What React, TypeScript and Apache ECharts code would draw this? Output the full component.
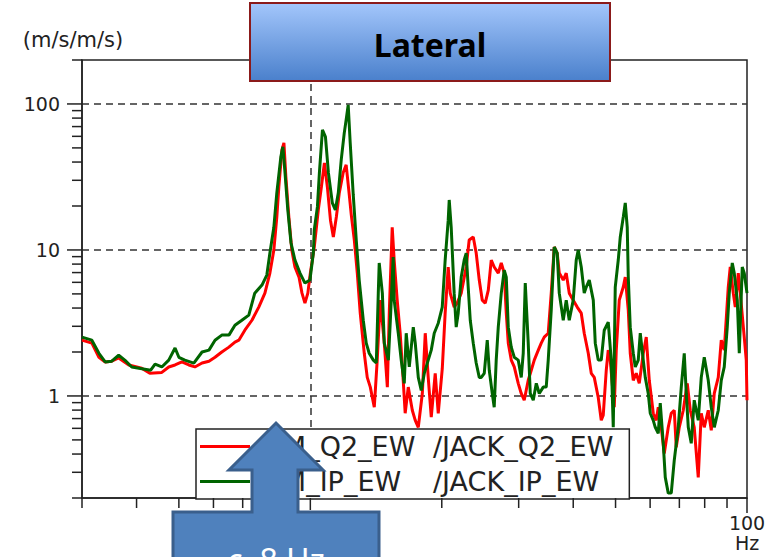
import React, { useEffect, useRef } from 'react';
import * as echarts from 'echarts';

// Transfer function amplitude, Q2 sensor ratio (red)
const FREQ_Q2 = [
  3.0, 3.16, 3.28, 3.39, 3.51, 3.64, 3.84, 4.11, 4.29, 4.57, 4.74, 4.9, 5.08, 5.27, 5.44, 5.65, 5.86, 6.05, 6.27, 6.51,
  6.72, 6.86, 7.08, 7.35, 7.62, 7.87, 8.08, 8.25, 8.38, 8.47, 8.61, 8.7, 8.79, 8.93, 9.07, 9.22, 9.42, 9.57, 9.72, 9.87,
  10.0, 10.21, 10.43, 10.6, 10.77, 10.94, 11.12, 11.29, 11.47, 11.65, 11.89, 12.08, 12.28, 12.41, 12.61, 12.81, 13.01,
  13.29, 13.5, 13.72, 14.01, 14.23, 14.46, 14.77, 15.01, 15.17, 15.4, 15.56, 15.81, 16.06, 16.32, 16.49, 16.76, 17.12,
  17.39, 17.67, 18.05, 18.33, 18.62, 18.92, 19.32, 19.63, 20.05, 20.36, 20.69, 20.91, 21.35, 21.69, 22.16, 22.75, 23.11,
  23.61, 23.98, 24.37, 24.76, 25.15, 25.56, 25.96, 26.37, 26.94, 27.37, 27.8, 28.1, 28.4, 28.85, 29.31, 29.93, 30.41,
  30.89, 31.55, 32.06, 32.57, 33.27, 33.79, 34.33, 35.06, 35.62, 36.19, 36.76, 37.16, 37.95, 38.55, 39.17, 40.0, 40.85,
  41.73, 42.39, 43.3, 43.99, 44.69, 45.64, 46.37, 46.86, 47.61, 48.11, 48.62, 49.66, 50.19, 50.99, 52.08, 52.63, 53.47,
  54.03, 54.9, 55.77, 56.66, 57.87, 58.79, 59.73, 61.0, 61.97, 62.63, 63.63, 64.64, 66.02, 67.07, 68.14, 68.86, 69.96,
  71.46, 72.98, 74.15, 75.71, 77.33, 78.57, 79.82, 81.52, 82.83, 84.15, 85.94, 87.31, 88.7, 90.59, 91.55, 93.02, 94.0,
  95.5, 96.51, 98.56, 99.61, 100,
];
const AMP_Q2 = [
  2.41, 2.3, 1.84, 1.71, 1.73, 1.82, 1.63, 1.55, 1.43, 1.45, 1.58, 1.63, 1.71, 1.63, 1.58, 1.68, 1.73, 1.84, 2.0, 2.16,
  2.34, 2.41, 2.82, 3.3, 4.06, 5.06, 6.94, 9.98, 16.8, 27.0, 48.5, 54.2, 31.7, 16.8, 9.98, 7.64, 6.52, 5.06, 4.32, 5.06,
  6.94, 10.48, 18.8, 27.0, 39.5, 27.0, 16.0, 12.27, 16.8, 24.6, 33.8, 38.3, 23.8, 17.4, 11.7, 6.94, 3.69,
  1.96, 1.34, 1.15, 0.837, 1.76, 4.53, 2.3, 1.15, 3.87, 14.3, 8.53, 4.53, 2.69, 1.28, 0.761, 1.15, 0.798,
  0.681, 0.61, 1.04, 2.69, 1.34, 0.715, 1.43, 0.761, 1.53, 3.69, 7.64, 5.06, 4.06, 4.32, 5.06, 7.64, 11.7,
  12.27, 9.52, 6.22, 4.53, 4.32, 5.31, 8.53, 7.64, 6.94, 8.14, 6.94, 3.69, 2.3, 1.76, 1.58, 1.22, 1.04,
  0.935, 1.28, 1.5, 1.76, 2.06, 2.3, 2.53, 2.69, 5.06, 10.48, 9.52, 6.94, 6.22, 6.94, 5.06, 4.53, 4.06,
  3.69, 2.69, 1.96, 1.43, 1.34, 0.976, 0.681, 0.738, 1.5, 2.06, 1.76, 0.837, 2.06, 4.53, 5.57, 6.52, 3.87,
  1.96, 1.28, 1.43, 1.22, 1.96, 2.53, 1.28, 0.761, 0.681, 0.837, 0.61, 0.404, 0.61, 0.761, 0.798, 0.445, 0.61,
  0.798, 1.22, 0.798, 0.61, 0.277, 0.761, 0.61, 0.798, 0.582, 1.04, 1.34, 2.41, 2.06, 5.57, 7.64, 5.06, 4.06,
  6.94, 5.06, 2.53, 1.76, 0.935,
];

// Transfer function amplitude, IP sensor ratio (green)
const FREQ_IP = [
  3.0, 3.16, 3.28, 3.39, 3.51, 3.64, 3.76, 3.9, 4.05, 4.31, 4.41, 4.57, 4.74, 4.9, 5.0, 5.16, 5.41, 5.65, 5.86, 6.05,
  6.27, 6.51, 6.72, 6.97, 7.23, 7.46, 7.75, 7.95, 8.08, 8.25, 8.38, 8.56, 8.65, 8.74, 8.88, 9.03, 9.22, 9.47, 9.72, 9.98,
  10.16, 10.21, 10.38, 10.49, 10.66, 10.83, 11.0, 11.23, 11.41, 11.59, 11.77, 11.96, 12.08, 12.21, 12.34, 12.54, 12.74,
  12.94, 13.22, 13.43, 13.64, 13.94, 14.16, 14.31, 14.38, 14.62, 14.77, 15.09, 15.25, 15.48, 15.56, 15.9, 16.15, 16.41,
  16.58, 16.85, 17.21, 17.39, 17.67, 17.95, 18.24, 18.62, 18.92, 19.22, 19.63, 20.05, 20.36, 20.69, 20.8, 21.02, 21.35,
  21.58, 21.81, 22.16, 22.51, 22.75, 22.99, 23.24, 23.61, 23.98, 24.37, 24.63, 25.02, 25.42, 25.69, 26.1, 26.37, 26.65,
  26.94, 27.37, 27.8, 28.1, 28.4, 28.85, 29.31, 29.93, 30.41, 30.73, 31.06, 31.55, 31.89, 32.4, 32.92, 33.44, 34.15,
  34.69, 35.06, 35.62, 36.19, 36.76, 37.16, 37.95, 38.55, 39.17, 40.0, 40.64, 41.07, 41.73, 42.39, 42.84, 43.53, 44.46,
  44.93, 45.64, 46.37, 47.11, 48.11, 48.88, 49.4, 49.92, 50.72, 51.26, 52.08, 52.63, 53.18, 53.47, 54.03, 54.9, 55.48,
  56.36, 56.96, 57.87, 58.48, 59.41, 60.04, 61.0, 61.65, 62.63, 63.29, 64.3, 64.99, 66.02, 67.07, 68.14, 69.59, 70.71,
  71.83, 72.6, 73.37, 74.53, 75.71, 77.33, 78.57, 79.82, 81.52, 82.83, 84.15, 85.94, 87.31, 88.7, 90.11, 91.07, 92.53,
  93.5, 95.0, 96.01, 97.53, 98.56, 100,
];
const AMP_IP = [
  2.53, 2.41, 1.96, 1.71, 1.73, 1.9, 1.76, 1.58, 1.55, 1.5, 1.65, 1.58, 1.76, 2.13, 1.84, 1.76, 1.68, 2.0, 2.06, 2.41,
  2.61, 2.61, 3.05, 3.3, 3.58, 5.06, 5.75, 6.73, 9.52, 14.3, 24.6, 43.4, 50.9, 35.4, 18.8, 11.2, 8.53, 6.94, 5.93, 6.22,
  9.52, 13.7, 19.7, 33.8, 66.5, 59.6, 33.8, 21.0, 18.8, 24.6, 41.4, 63.4, 77.9, 98.6, 54.2, 23.8, 11.7,
  6.22, 3.3, 2.3, 1.96, 1.76, 1.68, 5.06, 8.14, 5.06, 2.3, 1.76, 3.3, 8.94, 4.53, 2.69, 1.76, 1.22,
  2.69, 1.58, 2.96, 2.3, 1.34, 1.09, 1.43, 1.76, 2.06, 2.69, 3.15, 4.06, 8.53, 16.0, 22.0, 14.3, 5.06,
  2.96, 3.69, 6.52, 8.53, 9.52, 5.57, 3.3, 2.3, 1.68, 1.34, 1.34, 1.43, 2.41, 1.5, 1.04, 0.837, 1.76,
  2.96, 5.06, 7.28, 6.52, 2.96, 2.16, 1.84, 1.76, 1.34, 1.96, 5.93, 2.3, 1.04, 0.935, 1.22, 1.04, 1.15,
  1.15, 1.76, 3.87, 10.48, 9.52, 5.06, 3.3, 4.53, 3.3, 4.53, 8.53, 9.98, 7.64, 5.06, 5.57, 6.22, 4.53,
  2.3, 1.76, 1.76, 2.82, 3.2, 1.76, 0.61, 5.57, 8.53, 12.27, 16.8, 21.0, 14.3, 6.52, 2.96, 1.96, 1.58,
  1.76, 2.69, 1.76, 1.34, 1.04, 0.761, 0.681, 0.61, 0.555, 0.892, 0.474, 0.277, 0.216, 0.216, 0.362, 0.61, 1.15,
  1.96, 1.04, 0.61, 0.474, 0.935, 0.681, 1.34, 1.84, 1.28, 0.837, 0.61, 0.798, 1.28, 1.58, 2.96, 5.06, 8.14,
  6.94, 4.53, 1.96, 7.64, 6.94, 5.06,
];

const LEGEND_LEFT = ['/RM_Q2_EW', '/RM_IP_EW'];
const LEGEND_RIGHT = ['/JACK_Q2_EW', '/JACK_IP_EW'];
const SERIES_COLORS = ['#ff0000', '#006400'];

const X_MIN = 3;
const X_MAX = 100;
const Y_MIN = 0.2;
const Y_MAX = 200;

// tick positions and their lengths in px
const X_TICKS = [3, 4, 5, 6, 7, 8, 9, 10, 20, 30, 40, 50, 60, 70, 80, 90, 100];
const X_TICK_LEN = [10, 10, 10, 10, 10, 10, 10, 12, 10, 10, 10, 10, 10, 10, 10, 10, 15];
const Y_TICKS = [
  0.2, 0.3, 0.4, 0.5, 0.6, 0.7, 0.8, 0.9, 1, 2, 3, 4, 5, 6, 7, 8, 9, 10, 20, 30, 40, 50, 60, 70, 80, 90, 100, 200,
];
const Y_MAJOR = [1, 10, 100];

const Y_LABELS = ['1', '10', '100'];
const X_LABEL = '100\nHz';
const Y_NAME = '(m/s/m/s)';
const TITLE = 'Lateral';
const CALLOUT = 'c. 8 Hz';

const INK = '#222';
const LABEL_FONT = 'DejaVu Sans';

export default function App() {
  const ref = useRef<HTMLDivElement>(null);

  useEffect(() => {
    if (!ref.current) return;
    const chart = echarts.init(ref.current, null, { renderer: 'svg' });

    const names = LEGEND_LEFT.map((a, i) => `${a} ${LEGEND_RIGHT[i]}`);
    const seriesData = [
      FREQ_Q2.map((f, i) => [f, AMP_Q2[i]]),
      FREQ_IP.map((f, i) => [f, AMP_IP[i]]),
    ];

    const near = (a: number, b: number) => Math.abs(a - b) < 1e-6 * Math.max(1, b);

    const option: any = {
      animation: false,
      backgroundColor: '#fff',
      grid: {
        left: 82,
        right: 20,
        top: 60,
        bottom: 59,
        show: true,
        borderColor: INK,
        borderWidth: 1.5,
        containLabel: false,
        outerBoundsMode: 'none',
      },
      xAxis: {
        type: 'log',
        logBase: 10,
        min: X_MIN,
        max: X_MAX,
        axisLine: { show: true, lineStyle: { color: INK, width: 1.5 } },
        axisTick: { show: false },
        axisLabel: {
          color: INK,
          fontFamily: LABEL_FONT,
          fontSize: 19,
          lineHeight: 20,
          margin: 15,
          formatter: (v: number) => (near(v, X_MAX) ? X_LABEL : ''),
        },
        splitLine: {
          show: true,
          showMinLine: false,
          showMaxLine: false,
          lineStyle: { color: '#333', width: 1.5, type: [7, 5] },
        },
      },
      yAxis: {
        type: 'log',
        logBase: 10,
        min: Y_MIN,
        max: Y_MAX,
        name: Y_NAME,
        nameLocation: 'end',
        nameGap: 10,
        nameTextStyle: {
          color: INK,
          fontFamily: LABEL_FONT,
          fontSize: 21,
          align: 'center',
          padding: [0, 18, 0, 0],
        },
        axisLine: { show: true, lineStyle: { color: INK, width: 1.5 } },
        axisTick: { show: false },
        axisLabel: {
          color: INK,
          fontFamily: LABEL_FONT,
          fontSize: 19,
          margin: 22,
          formatter: (v: number) => {
            const i = Y_MAJOR.findIndex((m) => near(v, m));
            return i >= 0 ? Y_LABELS[i] : '';
          },
        },
        splitLine: {
          show: true,
          showMinLine: false,
          showMaxLine: false,
          lineStyle: { color: '#333', width: 1.5, type: [7, 5] },
        },
      },
      legend: {
        data: names,
        orient: 'vertical',
        left: 196,
        top: 429,
        icon: 'rect',
        itemWidth: 50,
        itemHeight: 3,
        itemGap: 0,
        padding: [0, 16, 0, 4],
        backgroundColor: '#fff',
        borderColor: INK,
        borderWidth: 1.5,
        selectedMode: false,
        formatter: (name: string) => {
          const [a, b] = name.split(' ');
          return `{a|${a}}{b|${b}}`;
        },
        textStyle: {
          color: INK,
          fontFamily: LABEL_FONT,
          fontSize: 27,
          lineHeight: 35,
          rich: {
            a: { width: 178, color: INK, fontFamily: LABEL_FONT, fontSize: 27, lineHeight: 35 },
            b: { color: INK, fontFamily: LABEL_FONT, fontSize: 27, lineHeight: 35 },
          },
        },
      },
      series: [
        ...names.map((name, i) => ({
          name,
          type: 'line',
          data: seriesData[i],
          symbol: 'none',
          showSymbol: false,
          z: 2 + i,
          lineStyle: { color: SERIES_COLORS[i], width: 3 },
          itemStyle: { color: SERIES_COLORS[i] },
        })),
        {
          // minor and major ticks along the frequency axis
          type: 'custom',
          silent: true,
          clip: false,
          z: 5,
          data: X_TICKS.map((t, i) => [t, Y_MIN, X_TICK_LEN[i]]),
          renderItem: (_p: any, api: any) => {
            const pt = api.coord([api.value(0), api.value(1)]);
            const len = api.value(2);
            return {
              type: 'line',
              shape: { x1: pt[0], y1: pt[1], x2: pt[0], y2: pt[1] + len },
              style: { stroke: INK, lineWidth: 1.5 },
            };
          },
        },
        {
          // minor and major ticks along the amplitude axis
          type: 'custom',
          silent: true,
          clip: false,
          z: 5,
          data: Y_TICKS.map((t) => [X_MIN, t, Y_MAJOR.some((m) => near(t, m)) ? 15 : 10]),
          renderItem: (_p: any, api: any) => {
            const pt = api.coord([api.value(0), api.value(1)]);
            const len = api.value(2);
            return {
              type: 'line',
              shape: { x1: pt[0] - len, y1: pt[1], x2: pt[0], y2: pt[1] },
              style: { stroke: INK, lineWidth: 1.5 },
            };
          },
        },
      ],
      graphic: [
        {
          type: 'rect',
          z: 100,
          shape: { x: 250, y: 3, width: 360, height: 78 },
          style: {
            fill: new echarts.graphic.LinearGradient(0, 0, 0, 1, [
              { offset: 0, color: '#a3c6fb' },
              { offset: 1, color: '#4a80cc' },
            ]),
            stroke: '#8b1a1a',
            lineWidth: 2,
          },
        },
        {
          type: 'text',
          z: 101,
          x: 430,
          y: 44,
          style: {
            text: TITLE,
            fill: '#000',
            font: 'bold 32px "Noto Sans", "Open Sans", sans-serif',
            align: 'center',
            verticalAlign: 'middle',
          },
        },
        {
          type: 'polygon',
          z: 100,
          shape: {
            points: [
              [173, 600],
              [173, 512],
              [252, 512],
              [252, 470],
              [229, 470],
              [276, 423],
              [323, 470],
              [298, 470],
              [298, 512],
              [379, 512],
              [379, 600],
            ],
          },
          style: { fill: '#4f81bd', stroke: '#3a5f8c', lineWidth: 3, lineJoin: 'miter' },
        },
        {
          type: 'text',
          z: 101,
          x: 276,
          y: 559,
          style: {
            text: CALLOUT,
            fill: '#fff',
            font: '32px "Noto Sans", "Open Sans", sans-serif',
            align: 'center',
            verticalAlign: 'middle',
          },
        },
      ],
    };

    chart.setOption(option);
    return () => chart.dispose();
  }, []);

  return (
    <div
      ref={ref}
      style={{ position: 'absolute', left: 0, top: 0, width: 767, height: 557, background: '#fff' }}
    />
  );
}
